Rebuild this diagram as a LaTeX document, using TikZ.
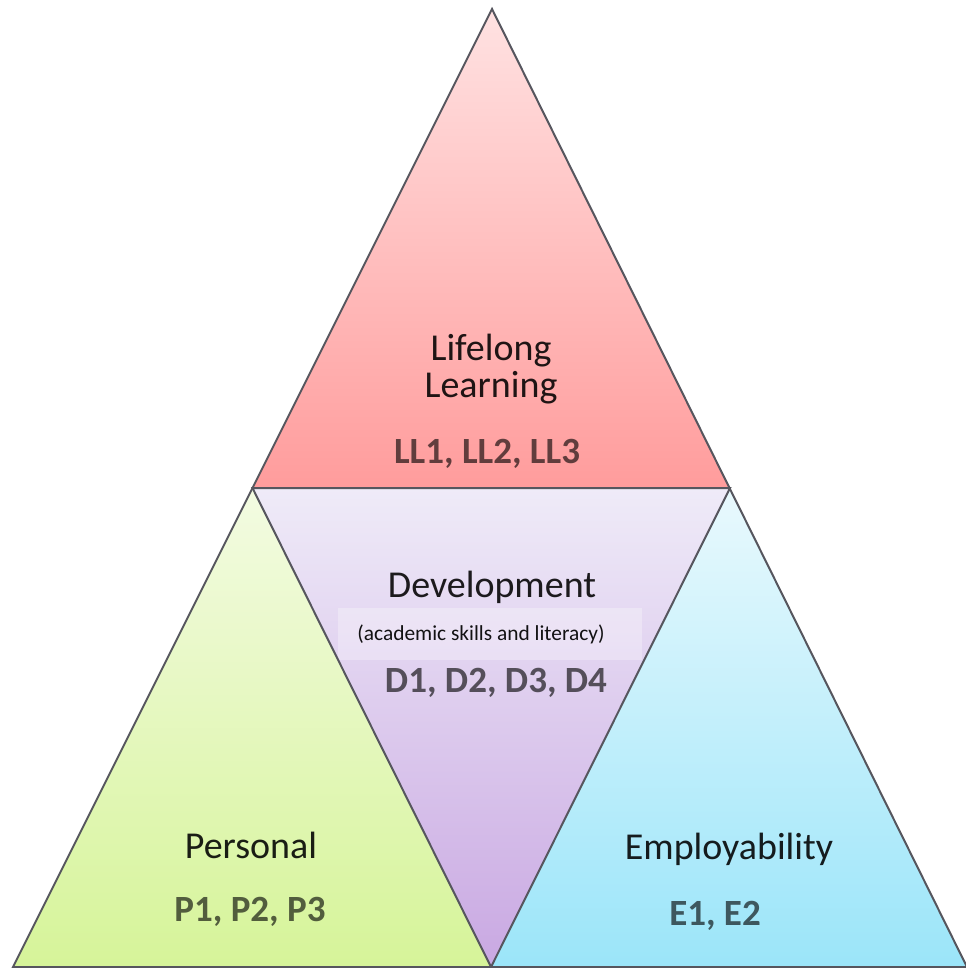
\documentclass[tikz,border=0pt]{standalone}
\usepackage{fontspec}
\setmainfont{Carlito}
\definecolor{pinkTop}{HTML}{FFE2E2}
\definecolor{pinkBot}{HTML}{FF9C9C}
\definecolor{lavTop}{HTML}{EFEBF8}
\definecolor{lavBot}{HTML}{C9A8E2}
\definecolor{grnTop}{HTML}{F3FBE2}
\definecolor{grnBot}{HTML}{D6F499}
\definecolor{bluTop}{HTML}{E9F9FD}
\definecolor{bluBot}{HTML}{9BE5F9}
\definecolor{edgeCol}{HTML}{56565E}
\begin{document}
\begin{tikzpicture}[x=0.5pt,y=-0.5pt,
  edge/.style={draw=edgeCol,line width=1pt,line join=miter},
  lbl/.style={anchor=base,inner sep=0pt,text=black,text opacity=0.88,font=\fontsize{19}{21}\selectfont},
  code/.style={anchor=base,inner sep=0pt,text=black,text opacity=0.62,font=\fontsize{18.5}{21}\selectfont\bfseries},
  sub/.style={anchor=base,inner sep=0pt,text=black,text opacity=0.92,font=\fontsize{10.7}{12}\selectfont}]
\useasboundingbox (0,0) rectangle (965,968);
\coordinate (A) at (492,9);
\coordinate (B) at (13,967);
\coordinate (C) at (967,967);
\coordinate (L) at (252.5,488);
\coordinate (R) at (730,488);
\coordinate (M) at (491,967);
% fills
\shade[top color=pinkTop,bottom color=pinkBot] (A)--(L)--(R)--cycle;
\shade[top color=lavTop,bottom color=lavBot] (L)--(R)--(M)--cycle;
\shade[top color=grnTop,bottom color=grnBot] (L)--(M)--(B)--cycle;
\shade[top color=bluTop,bottom color=bluBot] (R)--(C)--(M)--cycle;
% light band behind subtitle
\fill[white,opacity=0.3] (338,608) rectangle (642,660);
% outlines
\draw[edge] (A)--(B)--(C)--cycle;
\draw[edge] (L)--(R)--(M)--cycle;
% texts
\node[lbl] (ll1) at (491,360) {Lifelong};
\node[lbl] (ll2) at (491,397) {Learning};
\node[code] (llc) at (487,463) {LL1, LL2, LL3};
\node[lbl] (d1) at (492,597) {Development};
\node[sub] (d2) at (481,640) {(academic skills and literacy)};
\node[code] (dc) at (496,692) {D1, D2, D3, D4};
\node[lbl] (p1) at (251,858) {Personal};
\node[code] (pc) at (250,921) {P1, P2, P3};
\node[lbl] (e1) at (729,859) {Employability};
\node[code] (ec) at (715,925) {E1, E2};
\end{tikzpicture}
\end{document}
